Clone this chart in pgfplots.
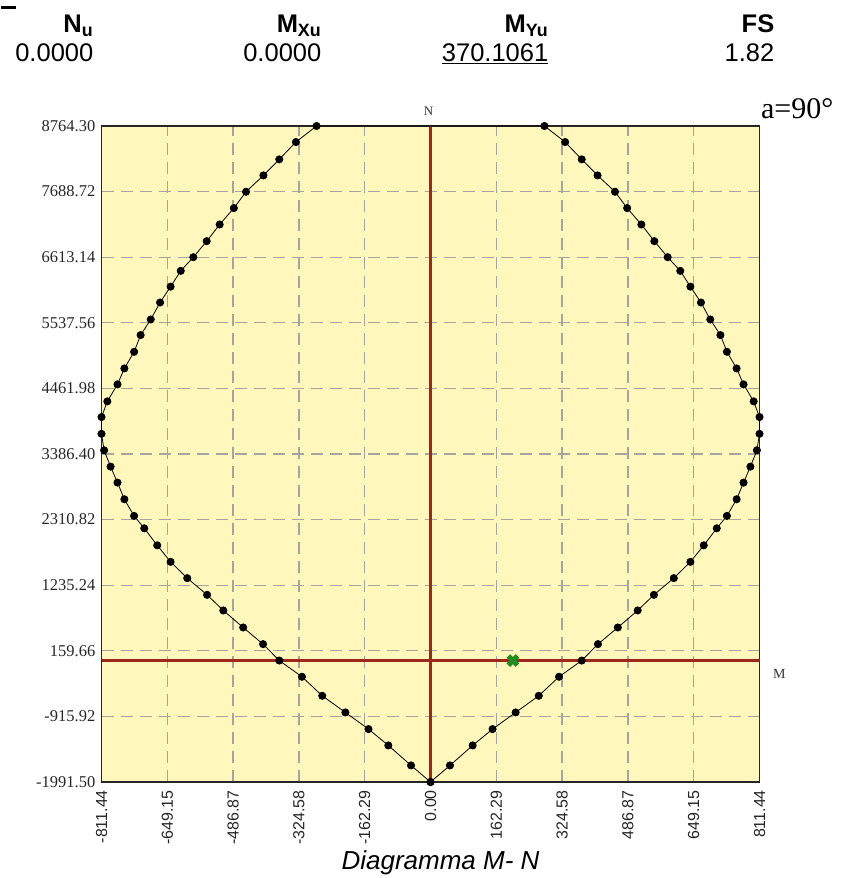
\documentclass[border=0pt]{standalone}
\usepackage{pgfplots}
\pgfplotsset{compat=1.18}
\usepackage{fontspec}
\setmainfont{Liberation Serif}
\newfontfamily\arial{Liberation Sans}
\definecolor{bgyel}{RGB}{255,247,188}
\definecolor{axred}{RGB}{158,38,26}
\definecolor{gridg}{RGB}{165,165,160}
\definecolor{mkgreen}{RGB}{34,140,34}
\begin{document}
\begin{tikzpicture}[x=1pt,y=1pt]
\path (0,0) rectangle (845,878);
% header
\draw[line width=3pt] (0,870) -- (15,870);
\begin{scope}[every node/.style={anchor=base east, inner sep=0pt}]
\node[font=\fontsize{25.5}{28}\selectfont\arial\bfseries] at (92,845) {N\textsubscript{u}};
\node[font=\fontsize{25.5}{28}\selectfont\arial\bfseries] at (320,845) {M\textsubscript{Xu}};
\node[font=\fontsize{25.5}{28}\selectfont\arial\bfseries] at (547,845) {M\textsubscript{Yu}};
\node[font=\fontsize{25.5}{28}\selectfont\arial\bfseries] at (773,845) {FS};
\node[font=\fontsize{25.5}{28}\selectfont\arial] at (92,816) {0.0000};
\node[font=\fontsize{25.5}{28}\selectfont\arial] at (320,816) {0.0000};
\node[font=\fontsize{25.5}{28}\selectfont\arial] at (547,816) {\underline{370.1061}};
\node[font=\fontsize{25.5}{28}\selectfont\arial] at (773,816) {1.82};
\node[font=\fontsize{30}{32}\selectfont] at (832,759) {a=90°};
\end{scope}
\begin{axis}[
  at={(100pt,96pt)}, anchor=south west,
  width=658pt, height=656pt, scale only axis,
  xmin=-811.44, xmax=811.44, ymin=-1991.5, ymax=8764.3,
  clip=false,
  axis background/.style={fill=bgyel},
  axis line style={black!85, line width=1.2pt},
  major tick length=0pt,
  xtick={-811.44,-649.15,-486.87,-324.58,-162.29,0,162.29,324.58,486.87,649.15,811.44},
  xticklabels={-811.44,-649.15,-486.87,-324.58,-162.29,0.00,162.29,324.58,486.87,649.15,811.44},
  ytick={-1991.50,-915.92,159.66,1235.24,2310.82,3386.40,4461.98,5537.56,6613.14,7688.72,8764.30},
  yticklabels={-1991.50,-915.92,159.66,1235.24,2310.82,3386.40,4461.98,5537.56,6613.14,7688.72,8764.30},
  xticklabel style={rotate=90, anchor=east, inner sep=0pt, font=\fontsize{16}{17}\selectfont\arial, text=black!85},
  yticklabel style={anchor=east, inner sep=0pt, font=\fontsize{16.5}{18}\selectfont, text=black!85},
  xticklabel shift=8pt, yticklabel shift=6pt,
  grid=major,
  major grid style={gridg, line width=1.3pt, dash pattern=on 12pt off 7pt},
]
\addplot[axred, line width=3pt, forget plot] coordinates {(0,-1991.5) (0,8764.3)};
\addplot[axred, line width=3pt, forget plot] coordinates {(-811.44,0) (811.44,0)};
\addplot[black, line width=0.8pt, mark=*, mark size=3.6pt, mark options={fill=black}] coordinates {
(0,-1991.50) (48,-1720) (104,-1392) (153,-1124) (210,-851) (267,-578) (317,-266) (373,0)
(413,269) (462,542) (511,821) (551,1077) (600,1351) (641,1618) (674,1889) (706,2168)
(731,2371) (755,2644) (772,2917) (789,3179) (805,3447) (811.44,3717) (811.44,3992)
(797,4249) (772,4528) (755,4789) (731,5062) (715,5336) (690,5592) (667,5870) (641,6130)
(616,6389) (585,6613) (552,6876) (520,7149) (485,7418) (455,7686) (412,7954) (373,8217)
(332,8501) (281,8764.3)
(-281,8764.3) (-332,8501) (-373,8217) (-412,7954) (-455,7686) (-485,7418) (-520,7149)
(-552,6876) (-585,6613) (-616,6389) (-641,6130) (-667,5870) (-690,5592) (-715,5336)
(-731,5062) (-755,4789) (-772,4528) (-797,4249) (-811.44,3992) (-811.44,3717) (-805,3447)
(-789,3179) (-772,2917) (-755,2644) (-731,2371) (-706,2168) (-674,1889) (-641,1618)
(-600,1351) (-551,1077) (-511,821) (-462,542) (-413,269) (-373,0) (-317,-266) (-267,-578)
(-210,-851) (-153,-1124) (-104,-1392) (-48,-1720) (0,-1991.50)
};
\addplot[only marks, mark=x, mark size=6.5pt, line width=5pt, mkgreen] coordinates {(203.36,0)};
\node[anchor=base, font=\fontsize{13}{14}\selectfont, text=black!80] at (axis cs:-5,8764.3) [yshift=10pt] {N};
\node[anchor=base west, font=\fontsize{14}{15}\selectfont, text=black!80] at (axis cs:811.44,0) [xshift=10pt, yshift=-18pt] {M};
\end{axis}
\node[anchor=base, font=\fontsize{26}{28}\selectfont\arial\itshape] at (439,9) {Diagramma M- N};
\end{tikzpicture}
\end{document}
